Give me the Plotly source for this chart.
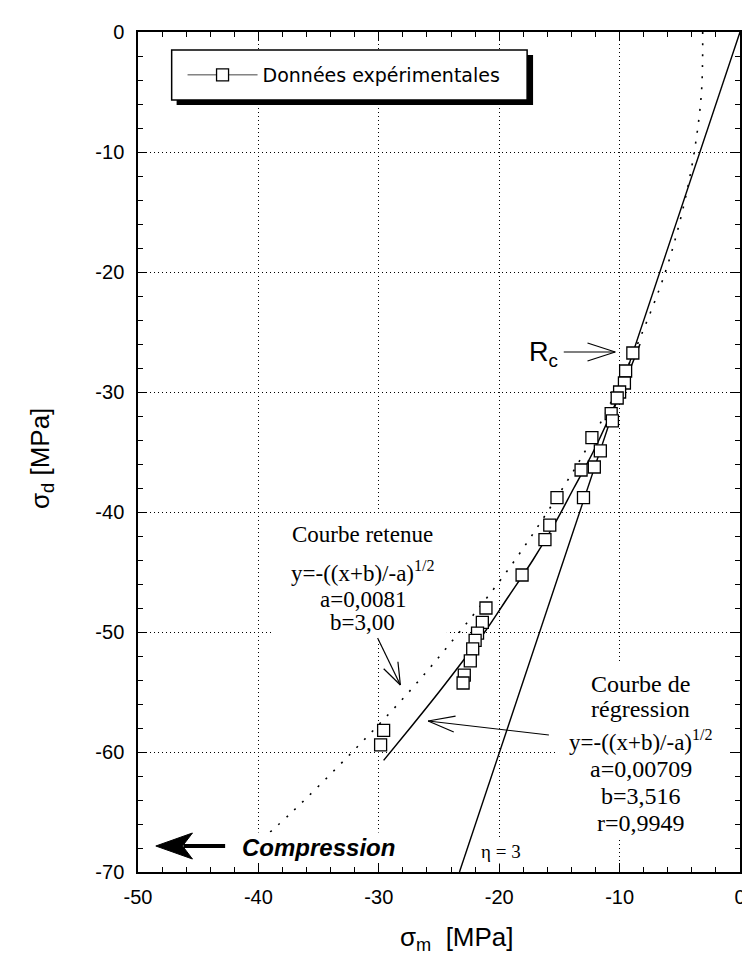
import plotly.graph_objects as go

# ---------------- data ----------------
sigma_m = [-8.9, -9.5, -9.6, -10.0, -10.2, -10.7, -10.6, -12.3, -11.6, -12.1, -13.2,
           -15.2, -13.0, -15.8, -16.2, -18.1, -21.1, -21.4, -21.8, -22.0, -22.2,
           -22.4, -22.9, -23.0, -29.6, -29.85]
sigma_d = [-26.75, -28.25, -29.25, -30.0, -30.5, -31.8, -32.4, -33.8, -34.9, -36.25, -36.5,
           -38.8, -38.8, -41.1, -42.3, -45.25, -48.0, -49.2, -50.1, -50.7, -51.4,
           -52.4, -53.6, -54.25, -58.2, -59.4]

# "Courbe retenue" (dotted)
retenue_x = [-3.1, -3.2, -3.8, -4.8, -6.2, -8.3, -10.3, -12.9, -16.0, -19.4, -23.3, -27.5, -32.2, -37.2, -39.4]
retenue_y = [0.0, -5.0, -10.0, -15.0, -20.0, -25.5, -30.0, -35.0, -40.0, -45.0, -50.0, -55.0, -60.0, -65.0, -67.0]

# "Courbe de regression" (solid)
regression_x = [-29.6, -27.4, -25.0, -22.7, -21.2, -19.2, -17.2, -15.4, -13.8, -12.2, -10.8, -9.5, -8.3]
regression_y = [-60.7, -58.0, -55.0, -52.0, -50.0, -47.0, -44.0, -41.0, -38.0, -35.0, -32.0, -29.0, -26.0]

# eta = 3 line
eta_x = [0.0, -23.3]
eta_y = [0.0, -70.0]

x_tickvals = [-50, -40, -30, -20, -10, 0]
x_ticktext = ["-50", "-40", "-30", "-20", "-10", "0"]
y_tickvals = [0, -10, -20, -30, -40, -50, -60, -70]
y_ticktext = ["0", "-10", "-20", "-30", "-40", "-50", "-60", "-70"]

# ---------------- layout geometry (pixels) ----------------
W, H = 750, 955
L, R, T, B = 130, 738, 24, 864


def PX(px):
    return (px - L) / (R - L)


def PY(py):
    return 1 - (py - T) / (B - T)


fig = go.Figure()

fig.add_trace(go.Scatter(x=eta_x, y=eta_y, mode="lines",
                         line=dict(color="black", width=1.4), showlegend=False, hoverinfo="skip"))
fig.add_trace(go.Scatter(x=retenue_x, y=retenue_y, mode="lines",
                         line=dict(color="black", width=1.6, dash="2px,9px", shape="spline"),
                         showlegend=False, hoverinfo="skip"))
fig.add_trace(go.Scatter(x=regression_x, y=regression_y, mode="lines",
                         line=dict(color="black", width=1.5, shape="spline"),
                         showlegend=False, hoverinfo="skip"))
marker_style = dict(symbol="square", size=12, color="white", line=dict(color="black", width=1.3))
fig.add_trace(go.Scatter(x=sigma_m, y=sigma_d, mode="markers", marker=marker_style, showlegend=False))
# legend entry (line + square symbol as in the original legend)
fig.add_trace(go.Scatter(x=[None], y=[None], mode="lines+markers", name="Données expérimentales",
                         marker=marker_style, line=dict(color="#444", width=1)))

shapes = []


def rect(x0, y0, x1, y1, fill, line_w=0, line_c="black"):
    shapes.append(dict(type="rect", xref="paper", yref="paper", layer="above",
                       x0=PX(x0), x1=PX(x1), y0=PY(y0), y1=PY(y1),
                       fillcolor=fill, line=dict(width=line_w, color=line_c)))


def seg(x0, y0, x1, y1, w=1.2):
    shapes.append(dict(type="line", xref="paper", yref="paper", layer="above",
                       x0=PX(x0), x1=PX(x1), y0=PY(y0), y1=PY(y1),
                       line=dict(color="black", width=w)))


def open_arrow(x0, y0, x1, y1, hl=22, hw=8, w=1.2):
    import math
    dx, dy = x1 - x0, y1 - y0
    n = math.hypot(dx, dy)
    ux, uy = dx / n, dy / n
    seg(x0, y0, x1, y1, w)
    bx, by = x1 - ux * hl, y1 - uy * hl
    seg(bx - uy * hw, by + ux * hw, x1, y1, w)
    seg(bx + uy * hw, by - ux * hw, x1, y1, w)


# legend box with drop shadow
rect(169, 47, 529, 97, "black")
rect(164, 42, 523, 92, "white", 1.5)
# white backgrounds behind the text blocks
rect(267, 507, 442, 630, "white")
rect(552, 655, 727, 830, "white")

# arrows
open_arrow(560, 344, 612, 344, hl=28, hw=9)       # R_c
open_arrow(372, 630, 395, 677, hl=22, hw=8)       # courbe retenue
open_arrow(545, 727, 423, 713, hl=27, hw=8)       # courbe de regression
# compression arrow (thick, filled head)
seg(176, 838, 218, 838, w=4)
tip, bk, notch, hh = 148, 185, 175, 13
path = "M {} {} L {} {} L {} {} L {} {} Z".format(
    PX(tip), PY(838), PX(bk), PY(838 - hh), PX(notch), PY(838), PX(bk), PY(838 + hh))
shapes.append(dict(type="path", xref="paper", yref="paper", layer="above", path=path,
                   fillcolor="black", line=dict(color="black", width=1)))

serif = "Liberation Serif"
sans = "Liberation Sans"
annotations = []


def txt(text, px, py, size, family, xanchor="center", bg=None, color="black", **kw):
    d = dict(text=text, xref="paper", yref="paper", x=PX(px), y=PY(py), showarrow=False,
             xanchor=xanchor, yanchor="middle", font=dict(family=family, size=size, color=color))
    if bg:
        d["bgcolor"] = bg
    d.update(kw)
    annotations.append(d)


# Courbe retenue block
txt("Courbe retenue", 357, 526, 23, serif)
txt("y=-((x+b)/-a)<sup>1/2</sup>", 357, 563, 23, serif)
txt("a=0,0081", 357, 591, 23, serif)
txt("b=3,00", 357, 614, 23, serif)
# Courbe de regression block
txt("Courbe de", 638, 676, 24, serif)
txt("régression", 638, 701, 24, serif)
txt("y=-((x+b)/-a)<sup>1/2</sup>", 638, 732, 23, serif)
txt("a=0,00709", 638, 761, 24, serif)
txt("b=3,516", 638, 788, 24, serif)
txt("r=0,9949", 638, 815, 24, serif)
# other labels
txt("R<sub>c</sub>", 556, 346, 27, sans, xanchor="right")
txt("<b><i>Compression</i></b>", 312, 839, 24, sans, bg="white")
txt("η = 3", 474, 843, 19, serif, xanchor="left", bg="white")
# axis titles
txt("σ<sub>m</sub>  [MPa]", 452, 930, 26, sans)
txt("σ<sub>d</sub> [MPa]", 32, 450, 26, sans, textangle=-90)

axis_common = dict(showline=True, linewidth=1.5, linecolor="black", mirror="allticks",
                   ticks="inside", ticklen=9, tickwidth=1, tickcolor="black",
                   showgrid=True, gridcolor="black", gridwidth=1, griddash="1px,3px",
                   zeroline=False, tickfont=dict(family=sans, size=20, color="black"),
                   minor=dict(ticks="inside", ticklen=5, tickwidth=1, tickcolor="black",
                              tickmode="linear", tick0=0, dtick=2, showgrid=False))

fig.update_layout(
    width=W, height=H,
    margin=dict(l=L, r=W - R, t=T, b=H - B),
    paper_bgcolor="white", plot_bgcolor="white",
    xaxis=dict(range=[-50, 0], tickmode="array", tickvals=x_tickvals, ticktext=x_ticktext,
               ticklabelstandoff=6, **axis_common),
    yaxis=dict(range=[-70, 0], tickmode="array", tickvals=y_tickvals, ticktext=y_ticktext,
               ticklabelstandoff=8, **axis_common),
    showlegend=True,
    legend=dict(x=PX(175), y=PY(67), xanchor="left", yanchor="middle",
                bgcolor="rgba(0,0,0,0)", borderwidth=0, itemwidth=70,
                font=dict(family="DejaVu Sans", size=19, color="black")),
    shapes=shapes,
    annotations=annotations,
)

fig.write_html("out.html")
